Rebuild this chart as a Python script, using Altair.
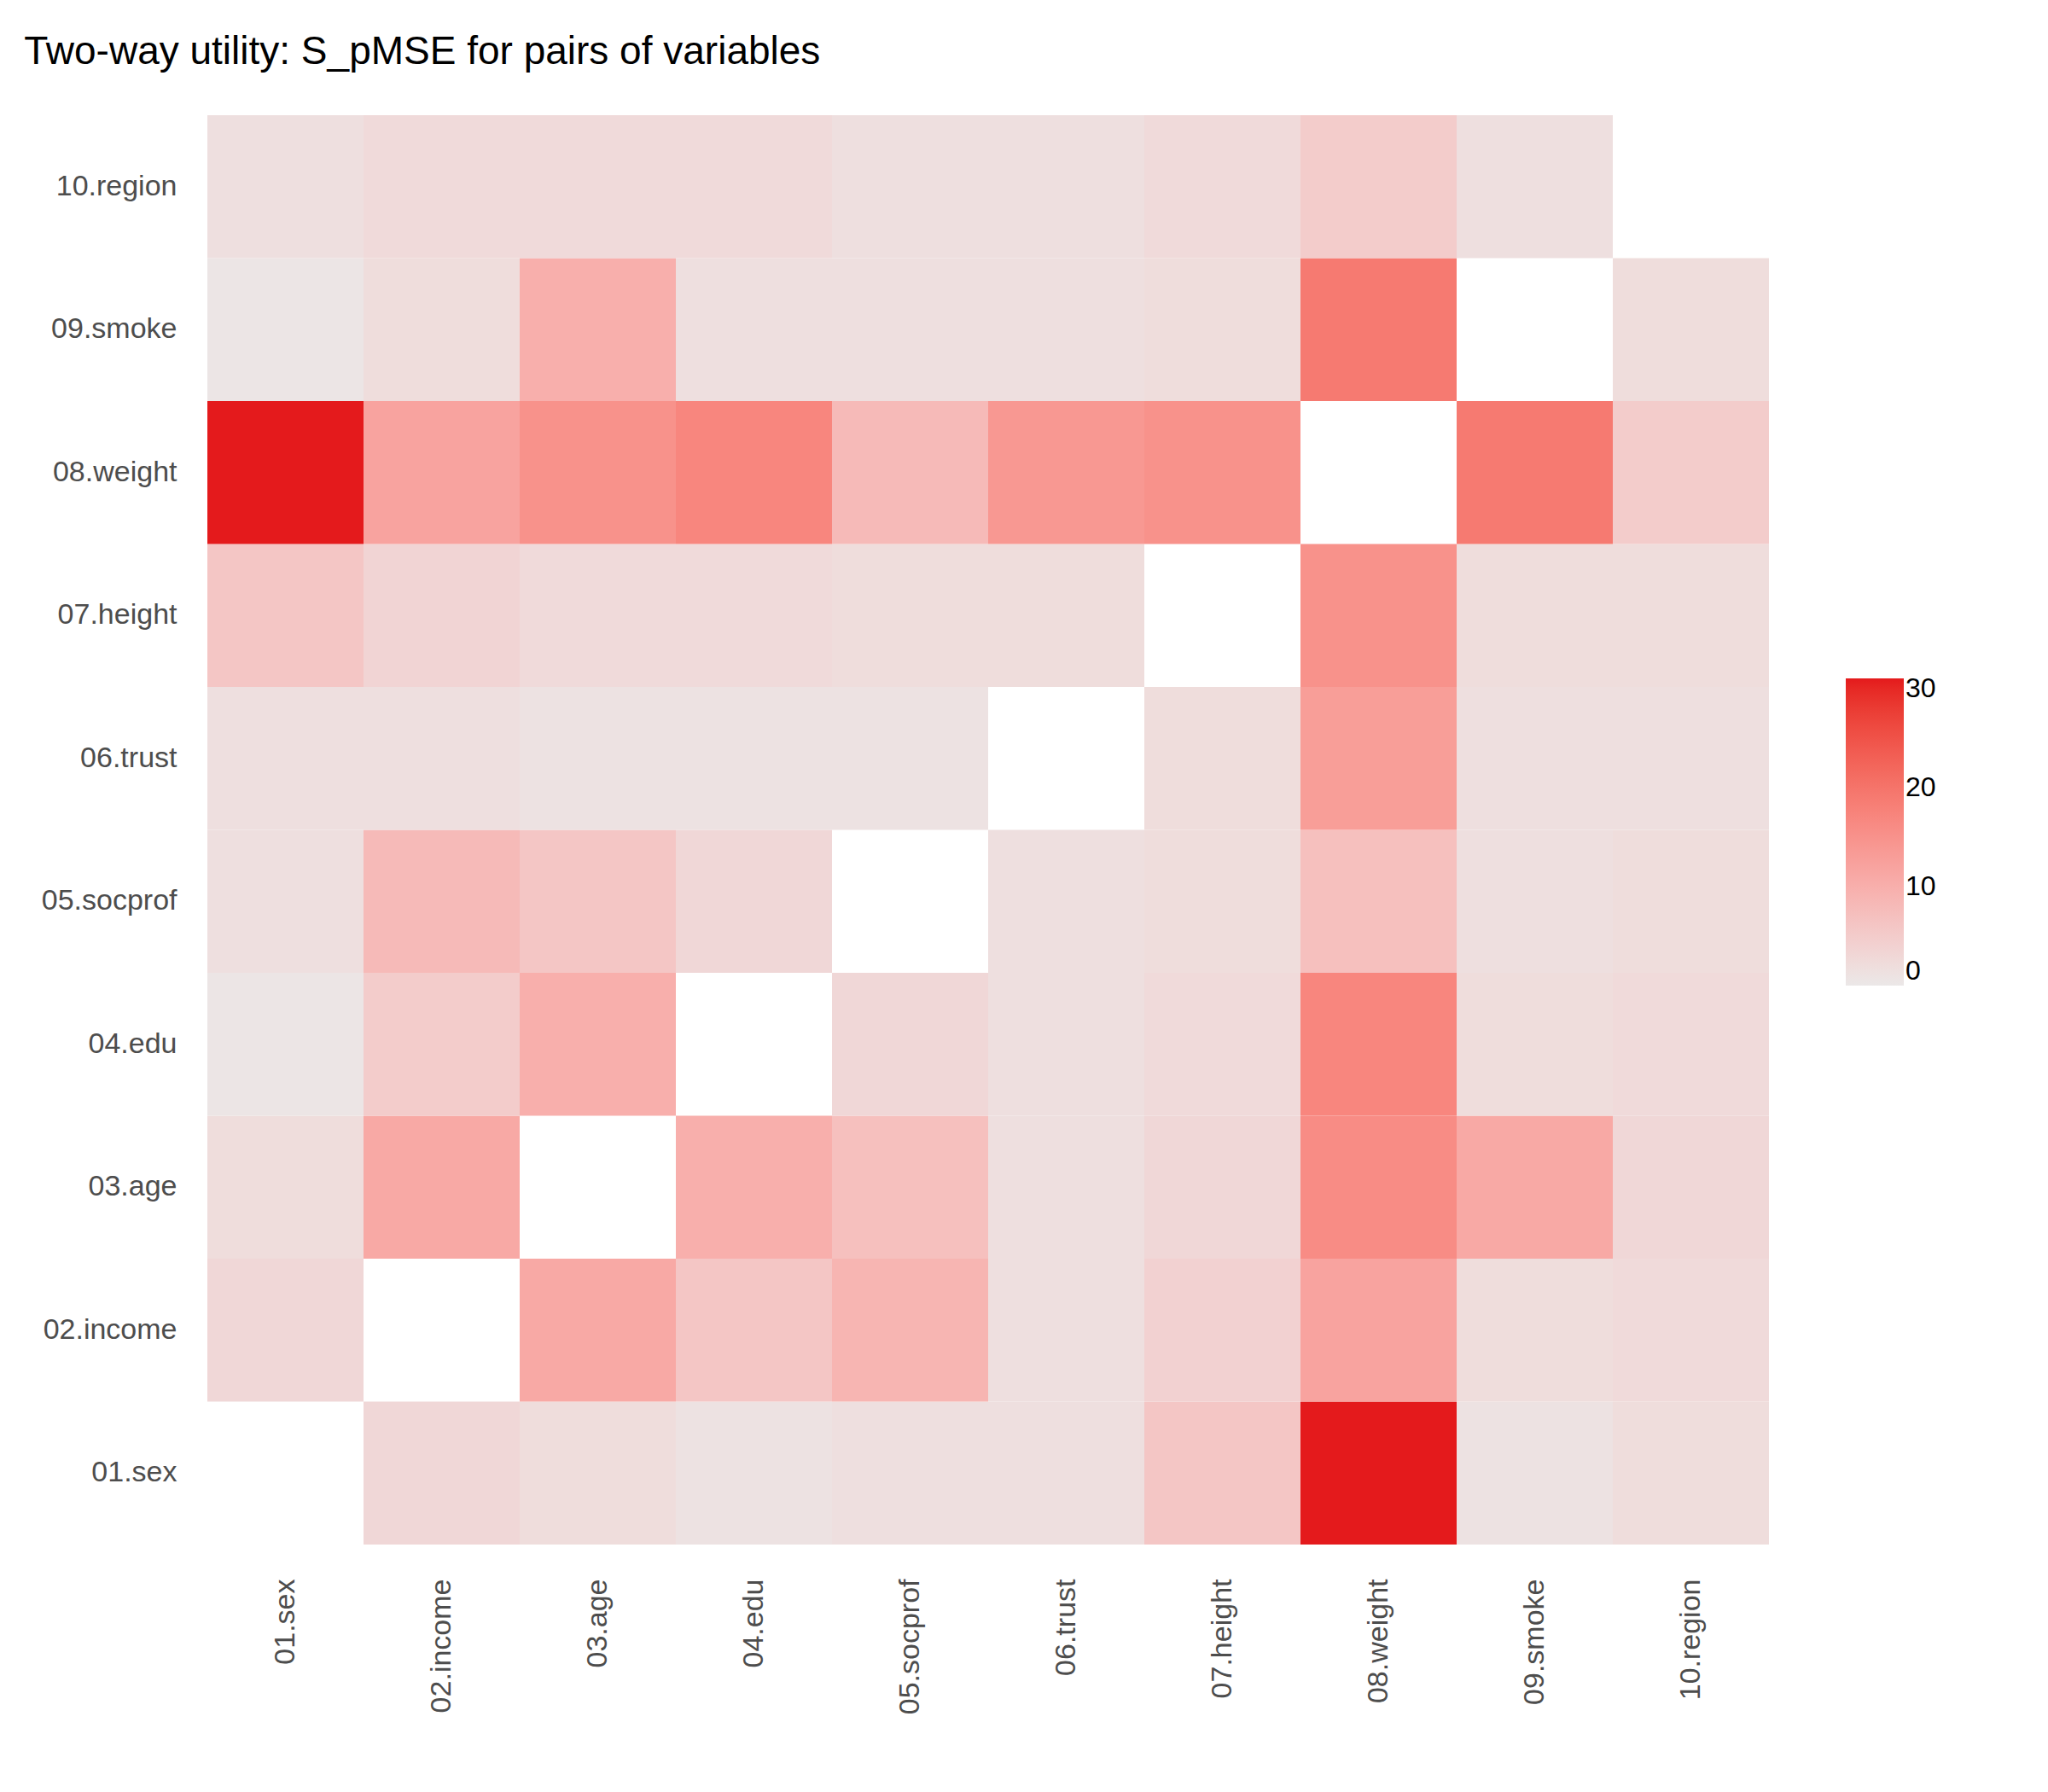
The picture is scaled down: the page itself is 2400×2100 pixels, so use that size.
import pandas as pd
import altair as alt

variables = ["01.sex", "02.income", "03.age", "04.edu", "05.socprof",
             "06.trust", "07.height", "08.weight", "09.smoke", "10.region"]

# one row per y variable, values across x variables (None = empty cell)
rows = {
    "01.sex":     [None, 3, 2, 1, 1.5, 1.5, 6, 31, 1, 2],
    "02.income":  [3, None, 11, 6, 9, 1.5, 4, 12, 2, 2.5],
    "03.age":     [2, 11, None, 10, 7, 1.5, 3, 16, 11, 3],
    "04.edu":     [0.5, 5, 10, None, 3, 1.5, 2.5, 17, 2, 2.5],
    "05.socprof": [1.5, 8, 6, 3, None, 1.5, 2, 7, 1.5, 2],
    "06.trust":   [1.5, 1.5, 1, 1, 1, None, 2, 13, 1.5, 1.5],
    "07.height":  [6, 3.5, 2.5, 2.5, 2, 2, None, 15, 2, 2],
    "08.weight":  [31, 12, 15, 17, 8, 14, 15, None, 19, 5],
    "09.smoke":   [0.5, 2, 10, 1.5, 1.5, 1.5, 2, 19, None, 2],
    "10.region":  [1.5, 2.5, 2.5, 2.5, 1.5, 1.5, 2.5, 5, 1.5, None],
}

records = []
for yv, vals in rows.items():
    for xv, v in zip(variables, vals):
        if v is not None:
            records.append({"x": xv, "y": yv, "S_pMSE": v})
df = pd.DataFrame(records)

chart = alt.Chart(df).mark_rect().encode(
    x=alt.X("x:N", sort=variables, title=None,
            axis=alt.Axis(labelAngle=270, labelFontSize=34, labelColor="#4d4d4d",
                          ticks=False, domain=False, labelPadding=40)),
    y=alt.Y("y:N", sort=list(reversed(variables)), title=None,
            axis=alt.Axis(labelFontSize=34, labelColor="#4d4d4d",
                          ticks=False, domain=False, labelPadding=36)),
    color=alt.Color("S_pMSE:Q",
                    scale=alt.Scale(domain=[0, 31], range=["#ebe8e8", "#e41a1c"]),
                    legend=alt.Legend(title=None, gradientLength=360, gradientThickness=68,
                                      labelFontSize=32, values=[0, 10, 20, 30],
                                      orient="none", legendX=1920, legendY=660,
                                      labelColor="black")),
).properties(
    width=1830, height=1675,
    padding={"left": 20, "top": 30, "right": 20, "bottom": 20},
    title=alt.TitleParams("Two-way utility: S_pMSE for pairs of variables",
                          fontSize=46, fontWeight="normal", anchor="start", offset=50,
                          dx=-20, font="Liberation Sans"),
).configure_view(stroke=None).configure_axis(labelFont="Liberation Sans").configure_legend(
    labelFont="Liberation Sans")

chart.save("out.html", embed_options={"renderer": "svg", "actions": False})
